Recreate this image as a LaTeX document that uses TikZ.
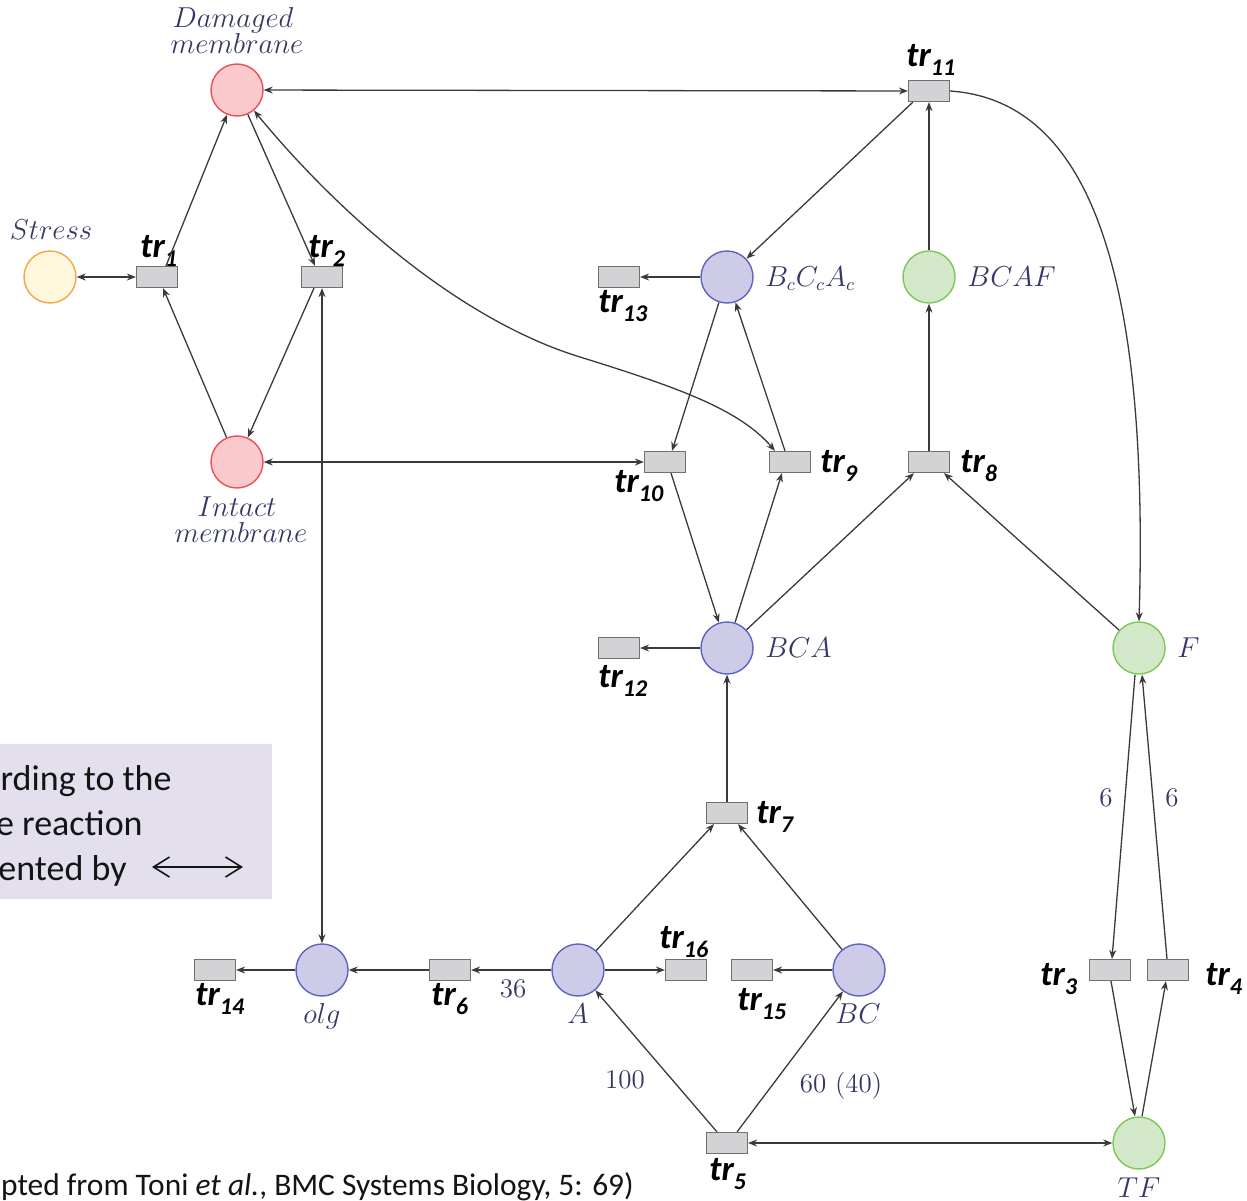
\documentclass[tikz,border=0pt]{standalone}
\usepackage{fontspec}
\usetikzlibrary{arrows.meta,calc}
\newfontfamily\carl{Carlito}
\definecolor{redf}{RGB}{249,201,204}
\definecolor{redd}{RGB}{232,80,88}
\definecolor{yelf}{RGB}{255,248,220}
\definecolor{yeld}{RGB}{246,165,70}
\definecolor{bluf}{RGB}{204,204,233}
\definecolor{blud}{RGB}{92,100,192}
\definecolor{grnf}{RGB}{210,232,200}
\definecolor{grnd}{RGB}{124,200,84}
\definecolor{trf}{RGB}{211,211,214}
\definecolor{trd}{RGB}{112,112,112}
\definecolor{linec}{RGB}{58,58,58}
\definecolor{labc}{RGB}{52,56,100}
\definecolor{boxf}{RGB}{228,223,236}
\definecolor{txtc}{RGB}{20,20,20}
\tikzset{
  place/.style={circle, minimum size=26pt, inner sep=0pt, line width=0.7pt},
  pred/.style={place, fill=redf, draw=redd},
  pyel/.style={place, fill=yelf, draw=yeld},
  pblue/.style={place, fill=bluf, draw=blud},
  pgreen/.style={place, fill=grnf, draw=grnd},
  trans/.style={rectangle, minimum width=20.5pt, minimum height=10.5pt, inner sep=0pt, fill=trf, draw=trd, line width=0.6pt},
  lab/.style={text=labc, inner sep=0pt, font=\fontsize{13.5}{13.5}\selectfont},
  trlab/.style={inner sep=0pt, anchor=base west, text=black, font=\carl\bfseries\itshape\fontsize{17.5}{17.5}\selectfont},
  arc/.style={draw=linec, line width=0.65pt, >={Stealth[length=4.5pt,width=3.5pt]}},
  boxtxt/.style={inner sep=0pt, anchor=base east, text=txtc, font=\carl\fontsize{18}{18}\selectfont},
}
\newcommand{\trsub}[1]{tr\raisebox{-4.5pt}{\fontsize{12}{12}\selectfont #1}}
\begin{document}
\begin{tikzpicture}[x=0.5pt,y=-0.5pt]
\useasboundingbox (0,0) rectangle (1247,1200);

% legend box (clipped at left edge)
\fill[boxf] (0,744) rectangle (272,899);
\begin{scope}
\clip (0,744) rectangle (272,899);
\node[boxtxt] (bt1) at (172,790) {rding to the};
\node[boxtxt] (bt2) at (143,835) {e reaction};
\node[boxtxt] (bt3) at (127,880) {ented by};
\end{scope}
\coordinate (la) at (152,867);
\coordinate (ra) at (243,867);
\draw[line width=0.8pt, txtc, {Straight Barb[length=8pt,width=10pt]}-{Straight Barb[length=8pt,width=10pt]}] (la) -- (ra);

% caption
\node[inner sep=0pt, anchor=base east, text=txtc, font=\carl\fontsize{15.7}{15.7}\selectfont] (cap) at (634,1195) {pted from Toni \textit{et al.}, BMC Systems Biology, 5: 69)};

% places
\node[pred] (dam) at (237,90) {};
\node[pyel] (stress) at (50,277) {};
\node[pred] (intact) at (237,462) {};
\node[pblue] (bcc) at (727,277) {};
\node[pgreen] (bcaf) at (929,277) {};
\node[pblue] (bca) at (727,648) {};
\node[pgreen] (f) at (1139,648) {};
\node[pblue] (olg) at (322,970) {};
\node[pblue] (a) at (578,970) {};
\node[pblue] (bc) at (859,970) {};
\node[pgreen] (tf) at (1139,1143) {};

% transitions
\node[trans] (tr1) at (157,277) {};
\node[trans] (tr2) at (322,277) {};
\node[trans] (tr11) at (929,91) {};
\node[trans] (tr13) at (619,277) {};
\node[trans] (tr10) at (665,462) {};
\node[trans] (tr9) at (790,462) {};
\node[trans] (tr8) at (929,462) {};
\node[trans] (tr12) at (619,648) {};
\node[trans] (tr7) at (727,813) {};
\node[trans] (tr14) at (215,970) {};
\node[trans] (tr6) at (450,970) {};
\node[trans] (tr16) at (686,970) {};
\node[trans] (tr15) at (752,970) {};
\node[trans] (tr3) at (1110,970) {};
\node[trans] (tr4) at (1168,970) {};
\node[trans] (tr5) at (727,1143) {};

% place labels
\node[lab, anchor=base] (ldam1) at (233,27) {$Damaged$};
\node[lab, anchor=base] (ldam2) at (237,53) {$membrane$};
\node[lab, anchor=base] (lstress) at (51,239) {$Stress$};
\node[lab, anchor=base] (lint1) at (237,516) {$Intact$};
\node[lab, anchor=base] (lint2) at (241,542) {$membrane$};
\node[lab, anchor=base west] (lbcc) at (765,286) {$B_cC_cA_c$};
\node[lab, anchor=base west] (lbcaf) at (967,286) {$BCAF$};
\node[lab, anchor=base west] (lbca) at (765,657) {$BCA$};
\node[lab, anchor=base west] (lf) at (1177,657) {$F$};
\node[lab, anchor=base] (lolg) at (322,1023) {$olg$};
\node[lab, anchor=base] (la2) at (578,1023) {$A$};
\node[lab, anchor=base] (lbc) at (858,1023) {$BC$};
\node[lab, anchor=base] (ltf) at (1139,1197) {$TF$};

% arc weights
\node[lab, anchor=base] (w36) at (513,997) {36};
\node[lab, anchor=base] (w100) at (625,1088) {100};
\node[lab, anchor=base] (w60) at (841,1092) {60 (40)};
\node[lab, anchor=base] (w6a) at (1106,806) {6};
\node[lab, anchor=base] (w6b) at (1172,806) {6};

% transition labels
\node[trlab] (l1) at (140,257) {\trsub{1}};
\node[trlab] (l2) at (308,257) {\trsub{2}};
\node[trlab] (l11) at (906,66) {\trsub{11}};
\node[trlab] (l13) at (598,312) {\trsub{13}};
\node[trlab] (l10) at (614,492) {\trsub{10}};
\node[trlab] (l9) at (820,472) {\trsub{9}};
\node[trlab] (l8) at (960,472) {\trsub{8}};
\node[trlab] (l12) at (598,687) {\trsub{12}};
\node[trlab] (l7) at (756,823) {\trsub{7}};
\node[trlab] (l16) at (659,948) {\trsub{16}};
\node[trlab] (l15) at (737,1010) {\trsub{15}};
\node[trlab] (l14) at (195,1005) {\trsub{14}};
\node[trlab] (l6) at (431,1005) {\trsub{6}};
\node[trlab] (l3) at (1040,985) {\trsub{3}};
\node[trlab] (l4) at (1205,985) {\trsub{4}};
\node[trlab] (l5) at (709,1180) {\trsub{5}};

% connectors
\draw[arc,<->] (stress) -- (tr1);
\draw[arc,->] ($(tr1.north)+(9,0)$) -- (dam);
\draw[arc,->] (intact) -- ($(tr1.south)+(6,0)$);
\draw[arc,->] (dam) -- ($(tr2.north)+(-7,0)$);
\draw[arc,->] ($(tr2.south)+(-8,0)$) -- (intact);
\draw[arc,<->] (tr2) -- (olg);
\draw[arc,<->] (dam) -- (tr11);
\draw[arc,<->] (dam) .. controls (340,215) and (460,320) .. (580,357)
   .. controls (680,388) and (740,410) .. ($(tr9.north)+(-15,0)$);
\draw[arc,<->] (intact) -- (tr10);
\draw[arc,->] ($(tr11.south west)+(5,0)$) -- (bcc);
\draw[arc,->] (bcaf) -- (tr11);
\draw[arc,->] (tr8) -- (bcaf);
\draw[arc,->] (bcc) -- (tr13);
\draw[arc,->] (bcc) -- ($(tr10.north)+(7,0)$);
\draw[arc,->] ($(tr9.north)+(-5,0)$) -- (bcc);
\draw[arc,->] ($(tr10.south)+(6,0)$) -- (bca);
\draw[arc,->] (bca) -- ($(tr9.south)+(-8,0)$);
\draw[arc,->] (bca) -- ($(tr8.south)+(-15,0)$);
\draw[arc,->] (f) -- ($(tr8.south)+(15,0)$);
\draw[arc,->] (tr11.east) .. controls (1080,100) and (1150,250) .. (f.north);
\draw[arc,->] (bca) -- (tr12);
\draw[arc,->] (tr7) -- (bca);
\draw[arc,->] (a) -- ($(tr7.south)+(-13,0)$);
\draw[arc,->] (bc) -- ($(tr7.south)+(11,0)$);
\draw[arc,->] (olg) -- (tr14);
\draw[arc,->] (tr6) -- (olg);
\draw[arc,->] (a) -- (tr6);
\draw[arc,->] (a) -- (tr16);
\draw[arc,->] (bc) -- (tr15);
\draw[arc,->] ($(tr5.north)+(-10,0)$) -- (a);
\draw[arc,->] ($(tr5.north)+(10,0)$) -- (bc);
\draw[arc,<->] (tr5) -- (tf);
\draw[arc,->] ($(f.south)+(-4,0)$) -- ($(tr3.north)+(2,0)$);
\draw[arc,->] ($(tr4.north)+(-1,0)$) -- ($(f.south)+(3,0)$);
\draw[arc,->] ($(tr3.south)+(1,0)$) -- ($(tf.north)+(-4,0)$);
\draw[arc,->] ($(tf.north)+(3,0)$) -- ($(tr4.south)+(-2,0)$);
\end{tikzpicture}
\end{document}
